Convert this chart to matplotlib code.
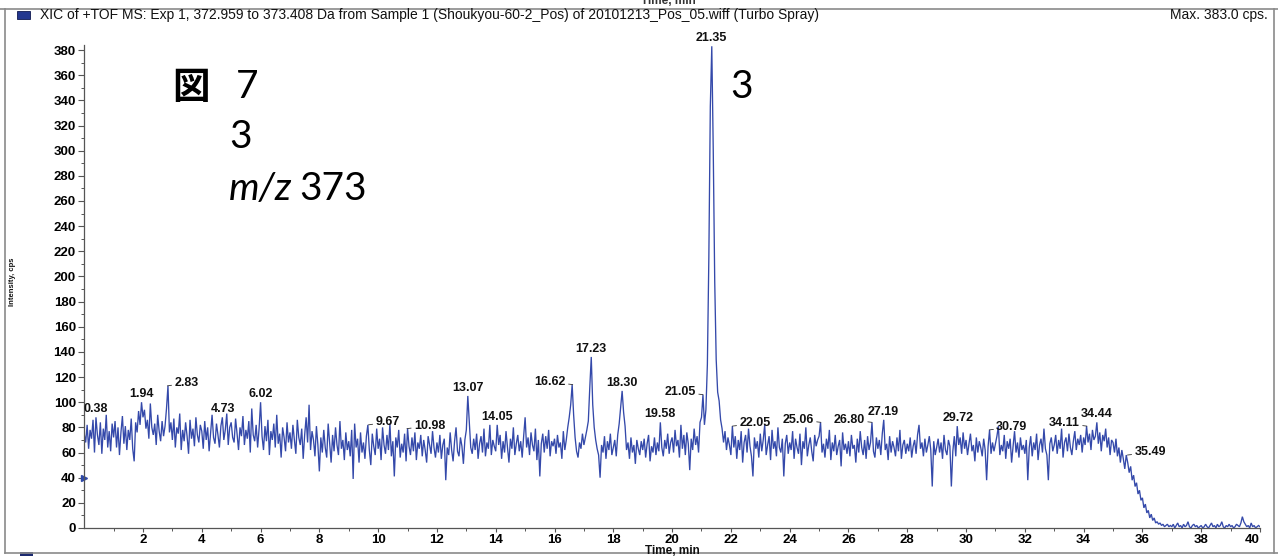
import numpy as np
import matplotlib
matplotlib.use("Agg")
import matplotlib.pyplot as plt
from matplotlib.patches import Rectangle
from matplotlib.lines import Line2D

# ---------------- data ----------------
t_start, t_step = 0.0, 0.05   # minutes
intensity_rows = [
    [75, 68, 82, 63, 78, 71, 86, 60, 88, 74, 66, 84, 59, 79, 70, 90, 64, 77, 61, 83],
    [72, 85, 64, 80, 58, 76, 89, 67, 81, 62, 78, 70, 87, 63, 53, 84, 76, 93, 82, 100],
    [88, 94, 79, 86, 71, 99, 80, 74, 83, 66, 90, 77, 69, 85, 73, 81, 95, 113, 76, 84],
    [70, 87, 64, 80, 75, 91, 62, 78, 69, 84, 73, 59, 86, 71, 79, 65, 88, 74, 68, 82],
    [77, 63, 85, 70, 80, 61, 76, 90, 72, 67, 83, 74, 64, 81, 88, 70, 78, 91, 66, 80],
    [84, 72, 68, 87, 75, 62, 80, 73, 89, 66, 78, 71, 85, 60, 95, 74, 69, 82, 64, 79],
    [100, 73, 62, 81, 69, 86, 58, 77, 70, 83, 64, 90, 67, 75, 56, 80, 72, 61, 84, 68],
    [76, 63, 82, 70, 59, 86, 72, 66, 79, 55, 74, 88, 68, 98, 62, 77, 70, 57, 81, 66],
    [45, 72, 60, 78, 64, 56, 83, 68, 52, 74, 61, 80, 66, 58, 85, 63, 70, 54, 76, 62],
    [69, 57, 78, 39, 83, 64, 71, 52, 76, 60, 68, 55, 73, 82, 62, 50, 75, 65, 58, 79],
    [63, 71, 54, 80, 66, 59, 74, 62, 83, 57, 69, 41, 72, 64, 78, 56, 67, 60, 75, 53],
    [79, 65, 58, 72, 61, 76, 54, 68, 63, 74, 57, 70, 62, 52, 73, 66, 59, 77, 64, 56],
    [68, 60, 74, 55, 66, 71, 38, 64, 58, 76, 62, 53, 69, 80, 61, 57, 72, 65, 51, 70],
    [78, 105, 84, 64, 59, 71, 62, 75, 55, 67, 73, 60, 79, 57, 68, 63, 82, 58, 70, 65],
    [61, 82, 66, 74, 55, 69, 60, 77, 64, 52, 71, 63, 80, 58, 67, 74, 61, 69, 56, 73],
    [88, 64, 72, 58, 76, 66, 61, 79, 54, 70, 41, 67, 75, 60, 73, 63, 78, 57, 69, 65],
    [71, 59, 74, 64, 68, 55, 77, 62, 70, 80, 88, 98, 114, 90, 72, 61, 56, 68, 63, 75],
    [66, 72, 78, 85, 112, 136, 98, 80, 70, 63, 58, 40, 66, 60, 73, 55, 69, 62, 75, 58],
    [64, 70, 57, 74, 83, 96, 109, 92, 81, 62, 68, 55, 72, 60, 66, 51, 70, 63, 58, 69],
    [62, 71, 56, 67, 74, 53, 65, 60, 72, 58, 68, 61, 84, 64, 57, 70, 63, 75, 59, 68],
    [72, 60, 78, 65, 70, 56, 82, 63, 74, 58, 76, 67, 46, 71, 62, 79, 66, 73, 60, 84],
    [88, 106, 82, 94, 130, 215, 335, 383, 300, 196, 134, 108, 101, 86, 79, 68, 77, 62, 72, 66],
    [58, 81, 64, 73, 55, 70, 62, 77, 52, 68, 74, 60, 79, 65, 57, 41, 72, 63, 69, 56],
    [75, 61, 70, 82, 58, 66, 73, 54, 78, 63, 69, 57, 80, 64, 60, 71, 41, 67, 74, 59],
    [68, 62, 77, 55, 71, 64, 59, 75, 50, 69, 63, 80, 57, 66, 72, 61, 53, 74, 65, 70],
    [73, 84, 60, 67, 56, 71, 63, 78, 54, 68, 61, 74, 58, 65, 70, 49, 76, 62, 67, 59],
    [69, 57, 74, 63, 66, 52, 71, 60, 77, 64, 58, 70, 55, 73, 62, 68, 84, 61, 56, 72],
    [63, 70, 58, 75, 86, 62, 67, 54, 73, 60, 69, 64, 57, 72, 61, 78, 55, 66, 70, 59],
    [67, 61, 72, 56, 65, 70, 59, 74, 82, 63, 68, 57, 71, 60, 66, 73, 62, 33, 69, 58],
    [64, 71, 60, 68, 55, 74, 62, 58, 70, 65, 33, 61, 73, 57, 81, 66, 72, 59, 76, 63],
    [70, 58, 67, 75, 61, 66, 53, 72, 60, 69, 64, 57, 71, 62, 38, 65, 78, 59, 68, 61],
    [67, 73, 81, 58, 66, 61, 74, 55, 69, 63, 71, 52, 65, 77, 60, 68, 56, 72, 62, 66],
    [59, 70, 38, 64, 73, 57, 68, 62, 75, 54, 66, 71, 60, 79, 63, 58, 38, 67, 72, 61],
    [66, 74, 59, 70, 63, 79, 56, 68, 72, 61, 75, 64, 58, 69, 77, 62, 71, 66, 74, 60],
    [72, 66, 81, 68, 75, 62, 78, 70, 73, 84, 67, 76, 61, 74, 69, 79, 64, 72, 58, 70],
    [68, 60, 71, 57, 64, 52, 62, 55, 47, 58, 52, 44, 49, 38, 42, 33, 36, 27, 30, 22],
    [24, 16, 19, 12, 14, 8, 11, 6, 8, 4, 5, 3, 4, 2, 3, 1, 2, 3, 1, 2],
    [1, 3, 0, 2, 4, 1, 2, 0, 3, 1, 2, 5, 1, 0, 2, 3, 1, 2, 0, 1],
    [2, 0, 1, 3, 1, 0, 2, 4, 1, 2, 0, 3, 1, 2, 5, 1, 0, 2, 1, 3],
    [1, 2, 0, 1, 3, 2, 1, 4, 9, 5, 3, 1, 2, 0, 4, 1, 2, 0, 1, 2],
    [1],
]

peak_labels = ["0.38", "1.94", "2.83", "4.73", "6.02", "9.67", "10.98", "13.07",
               "14.05", "16.62", "17.23", "18.30", "19.58", "21.05", "21.35",
               "22.05", "25.06", "26.80", "27.19", "29.72", "30.79", "34.11",
               "34.44", "35.49"]
# label placement style: c = above, l = text to the right with leader, r = text to the left with leader
label_side = ["c", "c", "l", "c", "c", "l", "l", "c",
              "c", "r", "c", "c", "c", "r", "c",
              "l", "r", "r", "c", "c", "l", "r",
              "c", "l"]

x_ticks = [2, 4, 6, 8, 10, 12, 14, 16, 18, 20, 22, 24, 26, 28, 30, 32, 34, 36, 38, 40]
y_ticks = [0, 20, 40, 60, 80, 100, 120, 140, 160, 180, 200, 220, 240, 260, 280,
           300, 320, 340, 360, 380]

header = ("XIC of +TOF MS: Exp 1, 372.959 to 373.408 Da from Sample 1 "
          "(Shoukyou-60-2_Pos) of 20101213_Pos_05.wiff (Turbo Spray)")
max_text = "Max. 383.0 cps."
threshold_level = 40

# ---------------- build ----------------
y = np.array([v for row in intensity_rows for v in row], dtype=float)
t = t_start + t_step * np.arange(len(y))

W, H = 1278, 556
fig = plt.figure(figsize=(W / 100, H / 100), dpi=100)
fig.patch.set_facecolor("white")

def fx(px):
    return px / W

def fy(py):
    return 1 - py / H

ax = fig.add_axes([fx(84.2), fy(528), fx(1260) - fx(84.2), fy(45) - fy(528)])
ax.set_facecolor("white")
line_color = "#3449aa"
ax.plot(t, y, color=line_color, lw=0.95, solid_joinstyle="miter")
ax.set_xlim(0, 40)
ax.set_ylim(0, 384)

for s in ["top", "right"]:
    ax.spines[s].set_visible(False)
for s in ["left", "bottom"]:
    ax.spines[s].set_color("#555555")
    ax.spines[s].set_linewidth(0.9)

tick_font = dict(family="Liberation Sans", size=9.5, weight="bold")
ax.set_xticks(x_ticks)
ax.set_xticklabels([str(v) for v in x_ticks], fontdict=tick_font)
ax.set_xticks(np.arange(1, 40, 2), minor=True)
ax.set_yticks(y_ticks)
ax.set_yticklabels([str(v) for v in y_ticks], fontdict=tick_font)
ax.set_yticks(np.arange(10, 384, 20), minor=True)
ax.tick_params(axis="y", which="major", length=4, width=0.8, color="#555555", pad=2)
ax.tick_params(axis="x", which="major", length=3, width=0.8, color="#555555", pad=1)
ax.tick_params(axis="both", which="minor", length=2, width=0.7, color="#555555")
ax.get_xticklabels()[-1].set_horizontalalignment("right")

# threshold marker
ax.plot([0], [threshold_level], marker=">", color="#2e48a8", ms=5, clip_on=False)

# peak labels
lab_font = dict(family="Liberation Sans", size=9, weight="bold", color="#111111")
for lab, side in zip(peak_labels, label_side):
    tv = float(lab)
    sel = np.abs(t - tv) <= 0.051
    pv = y[sel].max()
    if side == "c":
        ax.annotate(lab, (tv, pv), xytext=(0, 1.5), textcoords="offset points",
                    ha="center", va="bottom", annotation_clip=False, **lab_font)
    elif side == "l":
        ax.annotate(lab, (tv, pv), xytext=(5, 2), textcoords="offset points",
                    ha="left", va="center", annotation_clip=False,
                    arrowprops=dict(arrowstyle="-", color="#333333", lw=0.6,
                                    shrinkA=0, shrinkB=0), **lab_font)
    else:
        ax.annotate(lab, (tv, pv), xytext=(-5, 2), textcoords="offset points",
                    ha="right", va="center", annotation_clip=False,
                    arrowprops=dict(arrowstyle="-", color="#333333", lw=0.6,
                                    shrinkA=0, shrinkB=0), **lab_font)

# axis titles
fig.text(fx(672), fy(550.5), "Time, min", ha="center", va="center",
         family="Liberation Sans", size=8.5, weight="bold", color="#111111")
fig.text(fx(13), fy(282), "Intensity, cps", ha="center", va="center", rotation=90,
         family="Liberation Sans", size=5.5, weight="bold", color="#111111")

# header
fig.text(fx(40), fy(15.5), header, ha="left", va="center",
         family="Liberation Sans", size=10, color="#111111")
fig.text(fx(1268), fy(15.5), max_text, ha="right", va="center",
         family="Liberation Sans", size=10, color="#111111")
fig.patches.append(Rectangle((fx(17), fy(18.5)), fx(13), fy(11) - fy(18.5),
                             transform=fig.transFigure, facecolor="#23378f",
                             edgecolor="#101a50", lw=0.6))
# cut-off text of the panel above
fig.text(fx(668), fy(1.5), "Time, min", ha="center", va="center",
         family="Liberation Sans", size=8.5, weight="bold", color="#333333")

# frame
frame_c = "#8a8a8a"
fig.lines.extend([
    Line2D([fx(0), fx(1278)], [fy(8.5), fy(8.5)], transform=fig.transFigure, color=frame_c, lw=1.2),
    Line2D([fx(5), fx(5)], [fy(8.5), fy(553)], transform=fig.transFigure, color=frame_c, lw=1.2),
    Line2D([fx(1274), fx(1274)], [fy(8.5), fy(553)], transform=fig.transFigure, color=frame_c, lw=1.2),
    Line2D([fx(5), fx(1278)], [fy(553), fy(553)], transform=fig.transFigure, color=frame_c, lw=1.2),
])
fig.patches.append(Rectangle((fx(20), fy(556)), fx(13), fy(552) - fy(556),
                             transform=fig.transFigure, facecolor="#1c2a70", lw=0))

# annotations (Japanese figure note)
big = 28
fig.text(fx(172), fy(87), "図", ha="left", va="center",
         family=["Noto Sans CJK JP", "DejaVu Sans"], size=27, weight="bold", color="black")
fig.text(fx(236), fy(87), "7", ha="left", va="center", family="Lato", size=big, color="black")
fig.text(fx(229), fy(137), "3", ha="left", va="center", family="Lato", size=big, color="black")
fig.text(fx(229), fy(189), "m/z", ha="left", va="center", family="Lato", style="italic",
         size=big, color="black")
fig.text(fx(299), fy(189), "373", ha="left", va="center", family="Lato",
         size=big, color="black")
fig.text(fx(730), fy(87), "3", ha="left", va="center", family="Lato", size=big, color="black")

fig.savefig("out.png", dpi=100, facecolor="white")
